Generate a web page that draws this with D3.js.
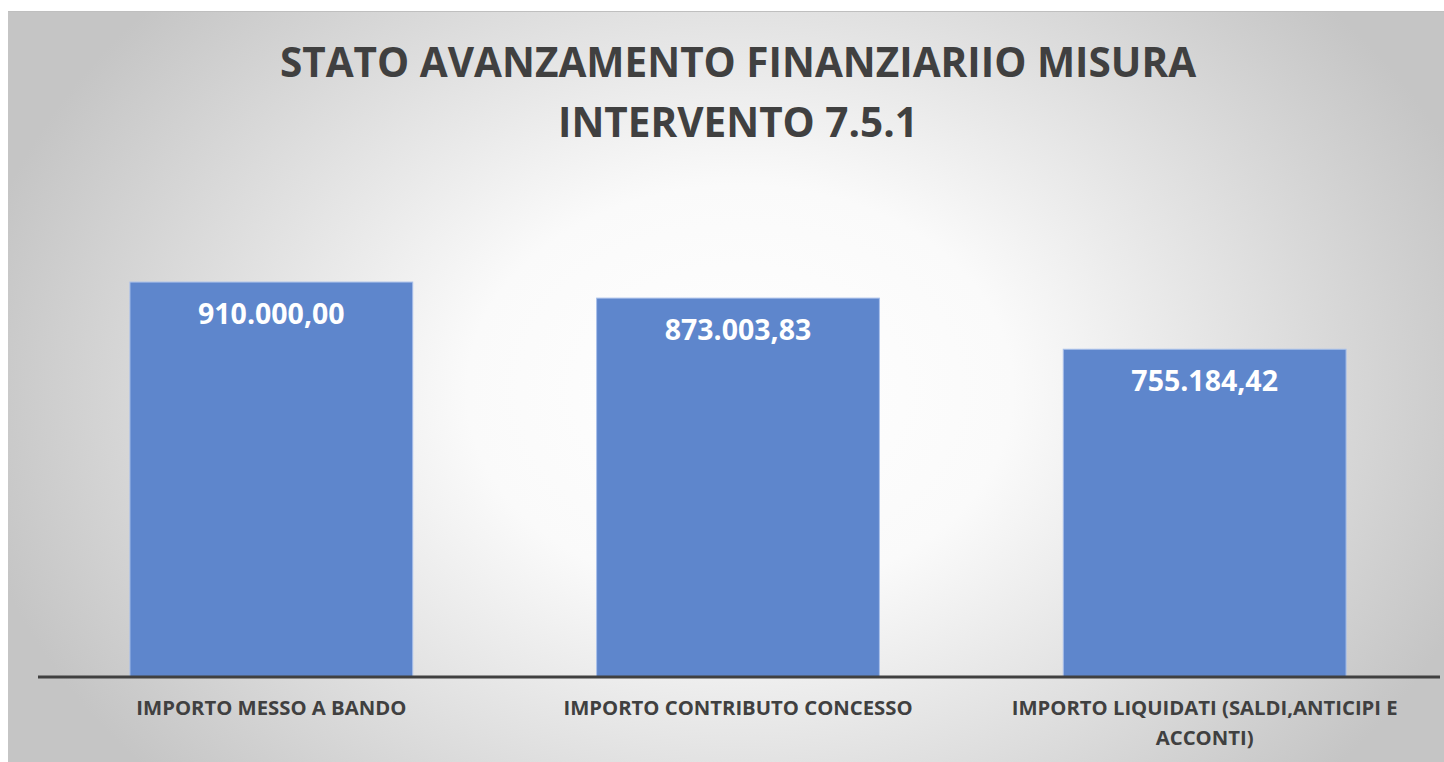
<!DOCTYPE html>
<html>
<head>
<meta charset="utf-8">
<script src="https://cdn.jsdelivr.net/npm/d3@7"></script>
<style>
  body { margin: 0; background: #fff; }
  svg { display: block; }
</style>
</head>
<body>
<svg id="chart" width="1444" height="762"></svg>
<script>
var categories = ["IMPORTO MESSO A BANDO", "IMPORTO CONTRIBUTO CONCESSO", "IMPORTO LIQUIDATI (SALDI,ANTICIPI E ACCONTI)"];
var values = [910000.00, 873003.83, 755184.42];
var valueLabels = ["910.000,00", "873.003,83", "755.184,42"];
var titleLines = ["STATO AVANZAMENTO FINANZIARIIO MISURA", "INTERVENTO 7.5.1"];

var svg = d3.select("#chart");
var defs = svg.append("defs");

var grad = defs.append("radialGradient")
    .attr("id", "bg")
    .attr("gradientUnits", "userSpaceOnUse")
    .attr("cx", 740).attr("cy", 390).attr("r", 780)
    .attr("gradientTransform", "translate(740,390) scale(1,0.75) translate(-740,-390)");
grad.append("stop").attr("offset", "0%").attr("stop-color", "#ffffff");
grad.append("stop").attr("offset", "35%").attr("stop-color", "#fafafa");
grad.append("stop").attr("offset", "100%").attr("stop-color", "#c5c5c5");

// chart area
svg.append("rect")
    .attr("x", 8).attr("y", 11)
    .attr("width", 1436).attr("height", 751)
    .style("fill", "url(#bg)");
svg.append("line")
    .attr("x1", 8).attr("x2", 1444)
    .attr("y1", 11.5).attr("y2", 11.5)
    .style("stroke", "#bfbfbf")
    .style("stroke-width", 1);

var x = d3.scaleBand()
    .domain(categories)
    .range([38, 1438])
    .paddingInner(0.394)
    .paddingOuter(0.197);

var y = d3.scaleLinear()
    .domain([0, 1000000])
    .range([677, 243]);

// title
svg.append("text")
    .attr("x", 738)
    .attr("text-anchor", "middle")
    .style("font-family", "'Open Sans', sans-serif")
    .style("font-weight", "bold")
    .style("font-size", "40.5px")
    .style("fill", "#404040")
    .selectAll("tspan")
    .data(titleLines)
    .enter()
    .append("tspan")
        .attr("x", 738)
        .attr("y", function(d, i){ return 77 + i * 60; })
        .text(function(d){ return d; });

// bars
svg.selectAll(".bar")
    .data(values)
    .enter()
    .append("rect")
        .attr("class", "bar")
        .attr("x", function(d, i){ return x(categories[i]); })
        .attr("y", function(d){ return y(d); })
        .attr("width", x.bandwidth())
        .attr("height", function(d){ return y(0) - y(d); })
        .style("fill", "#5e86cc")
        .style("stroke", "#a9c0ea")
        .style("stroke-width", 1);

// value labels
svg.selectAll(".val")
    .data(values)
    .enter()
    .append("text")
        .attr("class", "val")
        .attr("x", function(d, i){ return x(categories[i]) + x.bandwidth() / 2; })
        .attr("y", function(d){ return y(d) + 42; })
        .attr("text-anchor", "middle")
        .style("font-family", "'Open Sans', sans-serif")
        .style("font-weight", "bold")
        .style("font-size", "28.5px")
        .style("fill", "#ffffff")
        .text(function(d, i){ return valueLabels[i]; });

// axis
var axis = svg.append("g")
    .attr("transform", "translate(0,677)")
    .call(d3.axisBottom(x).tickSize(0).tickPadding(0));
axis.select(".domain")
    .attr("d", "M38,0H1440")
    .style("stroke", "#404040")
    .style("stroke-width", 3);
axis.selectAll(".tick text").remove();

var wrapLabel = function(label)
{
    if (label.length > 30)
        {
            var cut = label.lastIndexOf(" ", 38);
            return [label.slice(0, cut), label.slice(cut + 1)];
        }
    return [label];
}

axis.selectAll(".tick")
    .append("text")
    .attr("text-anchor", "middle")
    .style("font-family", "'Open Sans', sans-serif")
    .style("font-weight", "bold")
    .style("font-size", "20.3px")
    .style("fill", "#404040")
    .selectAll("tspan")
    .data(function(d){ return wrapLabel(d); })
    .enter()
    .append("tspan")
        .attr("x", 0)
        .attr("y", function(d, i){ return 38 + i * 30; })
        .text(function(d){ return d; });
</script>
</body>
</html>
